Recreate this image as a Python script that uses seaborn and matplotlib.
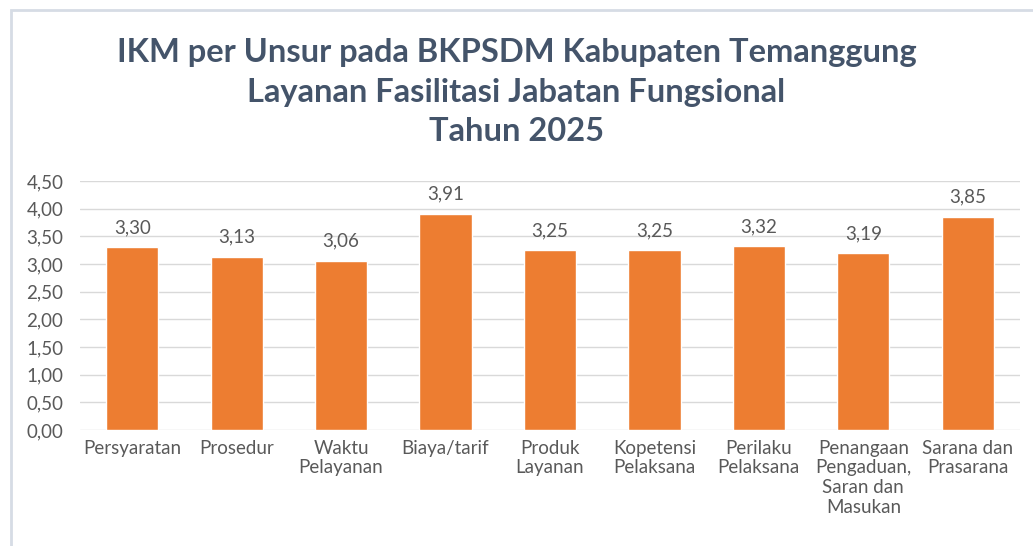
import matplotlib
matplotlib.use('Agg')
import matplotlib.pyplot as plt
import seaborn as sns
import pandas as pd
from matplotlib.patches import Rectangle

# data
unsur = ['Persyaratan', 'Prosedur', 'Waktu\nPelayanan', 'Biaya/tarif', 'Produk\nLayanan',
         'Kopetensi\nPelaksana', 'Perilaku\nPelaksana', 'Penangaan\nPengaduan,\nSaran dan\nMasukan',
         'Sarana dan\nPrasarana']
nilai = [3.30, 3.13, 3.06, 3.91, 3.25, 3.25, 3.32, 3.19, 3.85]
y_ticks = [0.0, 0.5, 1.0, 1.5, 2.0, 2.5, 3.0, 3.5, 4.0, 4.5]

sns.set_theme(style='white')
plt.rcParams['font.family'] = ['Lato', 'DejaVu Sans']

df = pd.DataFrame({'unsur': unsur, 'nilai': nilai})

fig = plt.figure(figsize=(10.33, 5.46), dpi=100)
fig.patch.set_facecolor('white')
# bingkai tipis
fig.patches.append(Rectangle((11 / 1033, -0.1), 1.2, 1 - 10 / 546 + 0.1, transform=fig.transFigure,
                             fill=False, edgecolor='#D6DCE5', linewidth=2))

ax = fig.add_axes([0.0774, 0.2125, 0.91, 0.456])
sns.barplot(data=df, x='unsur', y='nilai', color='#ED7D31', width=0.5, saturation=1, ax=ax)

ax.set_ylim(0, 4.5)
ax.set_yticks(y_ticks)
ax.set_yticklabels([f'{v:.2f}'.replace('.', ',') for v in y_ticks])
ax.yaxis.grid(True, color='#D9D9D9', linewidth=1)
ax.set_axisbelow(True)
for s in ax.spines.values():
    s.set_visible(False)
ax.tick_params(axis='y', colors='#595959', labelsize=13.5, length=0, pad=12)
ax.tick_params(axis='x', colors='#595959', labelsize=13.5, length=0, pad=7)
ax.set_xlabel('')
ax.set_ylabel('')
for lbl in ax.get_xticklabels():
    lbl.set_linespacing(1.2)

for i, v in enumerate(nilai):
    ax.annotate(f'{v:.2f}'.replace('.', ','), (i, v), xytext=(0, 8), textcoords='offset points',
                ha='center', va='bottom', fontsize=13.5, color='#595959')

judul = 'IKM per Unsur pada BKPSDM Kabupaten Temanggung\nLayanan Fasilitasi Jabatan Fungsional\nTahun 2025'
fig.text(0.5, 1 - 92 / 546, judul, ha='center', va='center', fontsize=23.5, fontweight='bold',
         color='#44546A', linespacing=1.45)

plt.savefig('out.png', dpi=100)
